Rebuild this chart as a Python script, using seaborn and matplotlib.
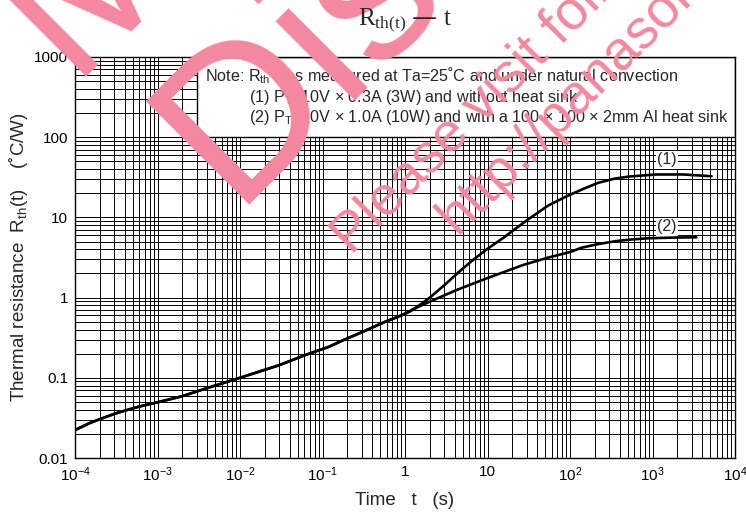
import matplotlib
matplotlib.use('Agg')
import matplotlib.pyplot as plt
from matplotlib.patches import Rectangle
from matplotlib.ticker import LogLocator, NullFormatter
import seaborn as sns
import pandas as pd
import numpy as np

# shared part of both curves (until ~1 s)
t_common = [1e-4, 1.5e-4, 2e-4, 3e-4, 4e-4, 6e-4, 1e-3, 2e-3, 4e-3, 1e-2, 3e-2, 6e-2, 0.12, 0.18, 0.3,
            0.55, 0.87, 1.1]
r_common = [0.0223, 0.0272, 0.0305, 0.0355, 0.0389, 0.0438, 0.0495, 0.059, 0.0745, 0.1, 0.144, 0.19, 0.244,
            0.296, 0.37, 0.49, 0.59, 0.66]

# (1) without heat sink
t_tail1 = [1.5, 2.0, 3.0, 4.6, 6.5, 9.8, 15.7, 30, 54, 83, 104, 150, 220, 350, 520, 1100, 2350, 5200]
r_tail1 = [0.805, 1.0, 1.43, 2.13, 2.88, 4.0, 5.6, 9.2, 14.0, 17.5, 19.5, 23.0, 27.0, 30.5, 32.3, 34.3, 34.3, 32.6]

# (2) with 100x100x2mm Al heat sink
t_tail2 = [1.5, 2.0, 4.2, 9.8, 27, 54, 100, 138, 220, 355, 550, 910, 1800, 3400]
r_tail2 = [0.78, 0.89, 1.24, 1.74, 2.55, 3.15, 3.7, 4.19, 4.65, 5.05, 5.3, 5.5, 5.6, 5.65]

x_ticks = [1e-4, 1e-3, 1e-2, 1e-1, 1, 10, 1e2, 1e3, 1e4]
x_tick_labels = ['$10^{-4}$', '$10^{-3}$', '$10^{-2}$', '$10^{-1}$', '1', '10', '$10^{2}$', '$10^{3}$',
                 '$10^{4}$']
y_ticks = [0.01, 0.1, 1, 10, 100, 1000]
y_tick_labels = ['0.01', '0.1', '1', '10', '100', '1000']

note_lines = ['Note: R$_{th}$ was measured at Ta=25˚C and under natural convection',
              '(1) P$_T$=10V × 0.3A (3W) and without heat sink',
              '(2) P$_T$=10V × 1.0A (10W) and with a 100 × 100 × 2mm Al heat sink']

df = pd.concat([
    pd.DataFrame({'t': t_common + t_tail1, 'rth': r_common + r_tail1, 'curve': '(1)'}),
    pd.DataFrame({'t': t_common + t_tail2, 'rth': r_common + r_tail2, 'curve': '(2)'}),
])

sns.set_style('white')
plt.rcParams['font.family'] = ['Liberation Sans', 'DejaVu Sans']
plt.rcParams['mathtext.default'] = 'regular'

fig = plt.figure(figsize=(7.46, 5.16), dpi=100)
ax = fig.add_axes([75 / 746, 58 / 516, 660 / 746, 401 / 516])
ax.set_xscale('log')
ax.set_yscale('log')

sns.lineplot(data=df, x='t', y='rth', units='curve', estimator=None, color='black', lw=1.9,
             ax=ax, legend=False, zorder=3)

ax.set_xlim(1e-4, 1e4)
ax.set_ylim(0.01, 1000)
ax.xaxis.set_minor_locator(LogLocator(base=10, subs=np.arange(2, 10), numticks=100))
ax.yaxis.set_minor_locator(LogLocator(base=10, subs=np.arange(2, 10), numticks=100))
ax.xaxis.set_minor_formatter(NullFormatter())
ax.yaxis.set_minor_formatter(NullFormatter())
ax.set_xticks(x_ticks)
ax.set_xticklabels(x_tick_labels)
ax.set_yticks(y_ticks)
ax.set_yticklabels(y_tick_labels)
ax.tick_params(which='both', length=0, labelsize=11, colors='black', pad=5)
ax.set_axisbelow(True)
ax.grid(which='both', color='black', lw=0.7)
for sp in ax.spines.values():
    sp.set_color('black')
    sp.set_linewidth(1.0)

ax.set_xlabel('Time   t   (s)', fontsize=13.5, labelpad=6)
ax.set_ylabel('Thermal resistance  R$_{th}$(t)    (˚C/W)', fontsize=13.5, labelpad=3)
fig.text(405 / 746, 1 - 20 / 516, 'R$_{th(t)}$ — t', ha='center', va='center',
         fontsize=18, family='Liberation Serif', zorder=11)

# note box
ax.add_patch(Rectangle((122 / 660, 0.8), 538 / 660, 0.2, transform=ax.transAxes,
                       facecolor='white', edgecolor='black', lw=1.0, zorder=1.5))
ax.text(130 / 660, 0.953, note_lines[0], transform=ax.transAxes, fontsize=11.6, va='center', zorder=4)
ax.text(174 / 660, 0.900, note_lines[1], transform=ax.transAxes, fontsize=11.6, va='center', zorder=4)
ax.text(174 / 660, 0.850, note_lines[2], transform=ax.transAxes, fontsize=11.6, va='center', zorder=4)

lbl_box = dict(facecolor='white', edgecolor='none', pad=1)
ax.text(1500, 52, '(1)', fontsize=11.5, ha='center', va='center', zorder=4, bbox=lbl_box)
ax.text(1500, 7.6, '(2)', fontsize=11.5, ha='center', va='center', zorder=4, bbox=lbl_box)

# watermark
pink = '#F4889E'
wm = dict(color=pink, rotation=45, rotation_mode='anchor', ha='left', va='baseline', zorder=10)
fig.text(69 / 746, 1 - 76 / 516, 'Maintenance/', fontsize=152, **wm)
fig.text(232 / 746, 1 - 205 / 516, 'Discontinued', fontsize=152, **wm)
fig.text(352 / 746, 1 - 256 / 516, 'Please visit following URL about latest information.', fontsize=40, **wm)
fig.text(457 / 746, 1 - 236 / 516, 'http://panasonic.net/sc/en/', fontsize=40, **wm)

fig.savefig('out.png', dpi=100)
